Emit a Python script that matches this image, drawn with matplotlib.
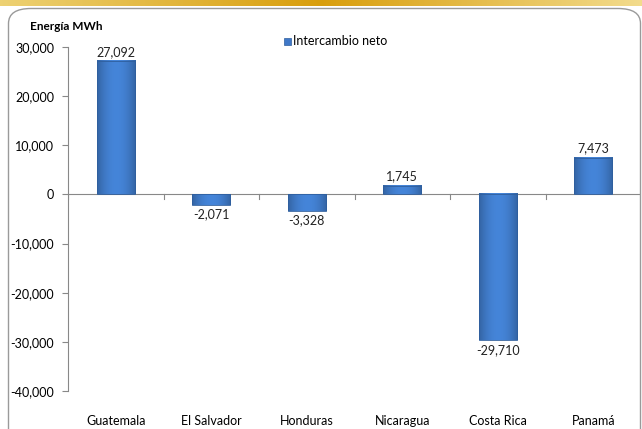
import numpy as np
import matplotlib.pyplot as plt
from matplotlib.patches import FancyBboxPatch, Rectangle

countries = ["Guatemala", "El Salvador", "Honduras", "Nicaragua", "Costa Rica", "Panamá"]
intercambio = [27092, -2071, -3328, 1745, -29710, 7473]
yticks = [30000, 20000, 10000, 0, -10000, -20000, -30000, -40000]

plt.rcParams["font.family"] = ["Lato", "DejaVu Sans"]

fig = plt.figure(figsize=(6.42, 4.29), dpi=100)

# golden band on top
band = fig.add_axes([0, 1 - 6 / 429, 1, 6 / 429])
grad = np.linspace(0, 1, 256)
band_col = np.array([[0.93, 0.82, 0.45], [0.85, 0.62, 0.05], [0.95, 0.86, 0.55]])
cols = np.array([np.interp(grad, [0, 0.5, 1], band_col[:, i]) for i in range(3)]).T
band.imshow(cols[None, :, :], aspect="auto", extent=[0, 1, 0, 1])
band.axis("off")

# rounded frame
frame = FancyBboxPatch((8.5 / 642, -0.05), 1 - 10 / 642, 1 - 8.5 / 429 + 0.05,
                       boxstyle="round,pad=0,rounding_size=0.035",
                       transform=fig.transFigure, fill=False,
                       edgecolor="#9a9a9a", linewidth=1.0, clip_on=False, zorder=5)
fig.patches.append(frame)

ax = fig.add_axes([68 / 642, 1 - 391 / 429, 573 / 642, 344 / 429])
x = np.arange(len(countries))
width = 0.4

# bars with horizontal gradient
cmap_vals = np.linspace(-1, 1, 64)
shade = 1 - 0.25 * cmap_vals ** 2
base = np.array([0.27, 0.52, 0.85])
img = np.clip(base[None, :] * shade[:, None], 0, 1)[None, :, :]
for xi, v in zip(x, intercambio):
    y0, y1 = (0, v) if v >= 0 else (v, 0)
    ax.imshow(img, aspect="auto", extent=[xi - width / 2, xi + width / 2, y0, y1],
              zorder=2, interpolation="bilinear")
    ax.add_patch(Rectangle((xi - width / 2, y0), width, y1 - y0, fill=False,
                           edgecolor="#2f5f9e", linewidth=0.6, zorder=3))
    off = 700 if v >= 0 else -700
    ax.text(xi, v + off, f"{v:,}", ha="center", va="bottom" if v >= 0 else "top",
            fontsize=9, color="#222222")
ax.set_xlim(-0.5, len(countries) - 0.5)
ax.set_ylim(-40000, 30000)

ax.set_yticks(yticks)
ax.set_yticklabels([f"{t:,}" for t in yticks], fontsize=9)
ax.tick_params(axis="y", length=4, color="#888888", pad=6)

# category axis line at zero with tick marks between categories
ax.axhline(0, color="#888888", linewidth=0.8, zorder=1)
for b in np.arange(-0.5, len(countries)):
    ax.plot([b, b], [0, -900], color="#888888", linewidth=0.8, zorder=1)
ax.set_xticks(x)
ax.set_xticklabels(countries, fontsize=9)
ax.tick_params(axis="x", length=0, pad=17)

for s in ["top", "right", "bottom"]:
    ax.spines[s].set_visible(False)
ax.spines["left"].set_color("#888888")
ax.spines["left"].set_linewidth(0.8)

fig.text(30 / 642, 1 - 26 / 429, "Energía MWh", fontsize=8.5, fontweight="bold",
         va="center")
fig.patches.append(Rectangle((284 / 642, 1 - 45 / 429), 7 / 642, 7 / 429,
                             transform=fig.transFigure, facecolor="#3f78c8",
                             edgecolor="#2f5f9e", linewidth=0.5))
fig.text(293 / 642, 1 - 41 / 429, "Intercambio neto", fontsize=9, va="center")

fig.savefig("out.png", dpi=100)
